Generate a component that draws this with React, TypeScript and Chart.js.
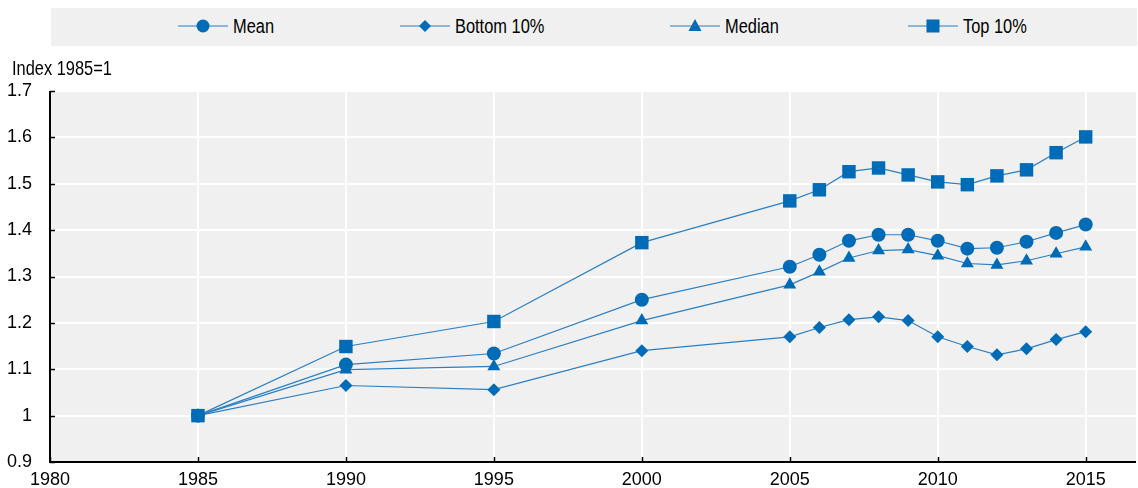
import React, { useEffect, useRef } from "react";
import { Chart, registerables } from "chart.js";

Chart.register(...registerables);

const years = [1985, 1990, 1995, 2000, 2005, 2006, 2007, 2008, 2009, 2010, 2011, 2012, 2013, 2014, 2015];
const meanValues = [1.0, 1.110, 1.134, 1.250, 1.321, 1.347, 1.377, 1.390, 1.390, 1.377, 1.360, 1.362, 1.375, 1.394, 1.412];
const bottom10Values = [1.0, 1.065, 1.056, 1.140, 1.170, 1.190, 1.207, 1.213, 1.205, 1.170, 1.149, 1.131, 1.144, 1.164, 1.181];
const medianValues = [1.0, 1.099, 1.106, 1.205, 1.282, 1.310, 1.340, 1.356, 1.358, 1.345, 1.328, 1.325, 1.334, 1.349, 1.364];
const top10Values = [1.0, 1.149, 1.203, 1.373, 1.463, 1.487, 1.526, 1.534, 1.519, 1.504, 1.498, 1.517, 1.530, 1.567, 1.601];
const xTicks = [1980, 1985, 1990, 1995, 2000, 2005, 2010, 2015];
const yTicks = [0.9, 1.0, 1.1, 1.2, 1.3, 1.4, 1.5, 1.6, 1.7];
const seriesNames = ["Mean", "Bottom 10%", "Median", "Top 10%"];
const yAxisTitle = "Index 1985=1";

const FONT = '"Liberation Sans", Arial, sans-serif';
const MARKER = "#006bb6";
const LINE = "#2b7fc3";

const styles = ["circle", "rectRot", "triangle", "rect"];
const radii = [7, 6.5, 7.5, 9.5];

const bgPlugin = {
  id: "bgPlugin",
  beforeDraw(chart: any) {
    const { ctx, chartArea } = chart;
    ctx.save();
    ctx.fillStyle = "#f0f0f0";
    ctx.fillRect(chartArea.left, chartArea.top, chartArea.right - chartArea.left, chartArea.bottom - chartArea.top);
    ctx.restore();
  },
  afterDraw(chart: any) {
    const { ctx, chartArea, scales } = chart;
    ctx.save();
    ctx.strokeStyle = "#000";
    ctx.lineWidth = 2;
    ctx.beginPath();
    ctx.moveTo(chartArea.left, chartArea.top);
    ctx.lineTo(chartArea.left, chartArea.bottom);
    ctx.lineTo(chartArea.right, chartArea.bottom);
    ctx.stroke();
    ctx.lineWidth = 1.5;
    ctx.beginPath();
    yTicks.forEach((v) => {
      const y = Math.round(scales.y.getPixelForValue(v)) + 0.5;
      ctx.moveTo(chartArea.left, y);
      ctx.lineTo(chartArea.left + 5, y);
    });
    xTicks.forEach((v) => {
      const x = Math.round(scales.x.getPixelForValue(v)) + 0.5;
      ctx.moveTo(x, chartArea.bottom);
      ctx.lineTo(x, chartArea.bottom - 5);
    });
    ctx.stroke();
    ctx.restore();
  },
};

function LegendMarker({ index }: { index: number }) {
  const c = 12;
  let shape: React.ReactNode = null;
  if (index === 0) shape = <circle cx={25} cy={c} r={6.5} fill={MARKER} />;
  if (index === 1) shape = <polygon points={`25,${c - 6} 31,${c} 25,${c + 6} 19,${c}`} fill={MARKER} />;
  if (index === 2) shape = <polygon points={`25,${c - 7} 31.5,${c + 5} 18.5,${c + 5}`} fill={MARKER} />;
  if (index === 3) shape = <rect x={18.5} y={c - 6.5} width={13} height={13} fill={MARKER} />;
  return (
    <svg width={50} height={24} style={{ display: "block" }}>
      <line x1={0} y1={c} x2={50} y2={c} stroke={LINE} strokeWidth={1.2} />
      {shape}
    </svg>
  );
}

const legendX = [178, 400, 670, 908];

const narrowText: React.CSSProperties = {
  display: "inline-block",
  fontSize: 20,
  color: "#000",
  transform: "scaleX(0.82)",
  transformOrigin: "left center",
  whiteSpace: "nowrap",
};

export default function App() {
  const ref = useRef<HTMLCanvasElement>(null);
  useEffect(() => {
    if (!ref.current) return;
    const all = [meanValues, bottom10Values, medianValues, top10Values];
    const chart = new Chart(ref.current, {
      type: "line",
      data: {
        datasets: all.map((vals, i) => ({
          label: seriesNames[i],
          data: years.map((yr, j) => ({ x: yr, y: vals[j] })),
          borderColor: LINE,
          borderWidth: 1.2,
          backgroundColor: MARKER,
          pointBackgroundColor: MARKER,
          pointBorderColor: MARKER,
          pointBorderWidth: 0,
          pointStyle: styles[i] as any,
          pointRadius: radii[i],
          pointHoverRadius: radii[i],
          tension: 0,
          clip: false as any,
        })),
      },
      options: {
        animation: false,
        responsive: false,
        maintainAspectRatio: false,
        layout: { autoPadding: false, padding: { top: 91, right: 2, left: 0, bottom: 0 } },
        plugins: { legend: { display: false }, tooltip: { enabled: false }, title: { display: false } },
        scales: {
          x: {
            type: "linear",
            min: 1980,
            max: 2016.7,
            afterBuildTicks: (s: any) => {
              s.ticks = xTicks.map((v) => ({ value: v }));
            },
            afterFit: (s: any) => {
              s.height = 26;
              s.paddingLeft = 0;
              s.paddingRight = 0;
            },
            grid: { color: "#ffffff", lineWidth: 2, drawTicks: false },
            border: { display: false },
            ticks: {
              color: "#000",
              font: { family: FONT, size: 18 },
              padding: 7,
              maxRotation: 0,
              autoSkip: false,
              callback: (v: any) => String(v),
            },
          },
          y: {
            min: 0.9,
            max: 1.7,
            afterBuildTicks: (s: any) => {
              s.ticks = yTicks.map((v) => ({ value: v }));
            },
            afterFit: (s: any) => {
              s.width = 50;
              s.paddingTop = 0;
              s.paddingBottom = 0;
            },
            grid: { color: "#ffffff", lineWidth: 2, drawTicks: false },
            border: { display: false },
            ticks: {
              color: "#000",
              font: { family: FONT, size: 18 },
              padding: 18,
              callback: (v: any) => String(Math.round(v * 10) / 10),
            },
          },
        },
      },
      plugins: [bgPlugin],
    });
    return () => chart.destroy();
  }, []);

  return (
    <div style={{ position: "fixed", left: 0, top: 0, width: 1138, height: 488, background: "#fff", fontFamily: FONT }}>
      <canvas ref={ref} width={1138} height={488} style={{ position: "absolute", left: 0, top: 0 }} />
      <div style={{ position: "absolute", left: 51, top: 8, width: 1086, height: 38, background: "#f0f0f0" }} />
      {seriesNames.map((name, i) => (
        <div
          key={name}
          style={{ position: "absolute", left: legendX[i], top: 14, height: 24, display: "flex", alignItems: "center", whiteSpace: "nowrap" }}
        >
          <LegendMarker index={i} />
          <span style={{ ...narrowText, marginLeft: 5, lineHeight: "24px" }}>{name}</span>
        </div>
      ))}
      <div style={{ position: "absolute", left: 12, top: 55, lineHeight: "26px" }}>
        <span style={narrowText}>{yAxisTitle}</span>
      </div>
    </div>
  );
}
